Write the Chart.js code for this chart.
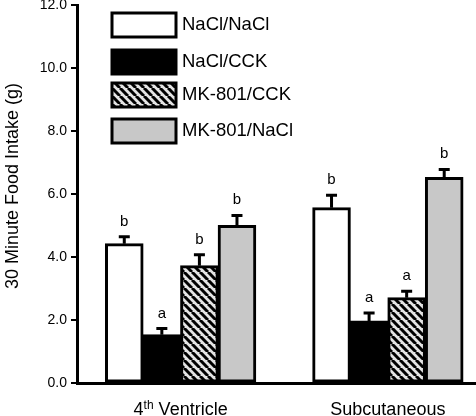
<!DOCTYPE html>
<html lang="en">
<head>
  <meta charset="UTF-8">
  <title>30 Minute Food Intake</title>
  <script src="https://cdn.jsdelivr.net/npm/chart.js"></script>
  <style>
    body { margin: 0; padding: 0; background: #fff; overflow: hidden; }
    #wrap { width: 500px; height: 416px; }
  </style>
</head>
<body>
  <div id="wrap"><canvas id="intakeChart" width="500" height="416"></canvas></div>

  <script>
    // Data
    const sites = ['4th Ventricle', 'Subcutaneous'];
    const groups = ['NaCl/NaCl', 'NaCl/CCK', 'MK-801/CCK', 'MK-801/NaCl'];
    const naclNacl = [4.42, 5.56];
    const naclCck = [1.53, 1.97];
    const mkCck = [3.72, 2.71];
    const mkNacl = [5.0, 6.52];
    const naclNaclErr = [0.22, 0.40];
    const naclCckErr = [0.20, 0.25];
    const mkCckErr = [0.35, 0.20];
    const mkNaclErr = [0.32, 0.26];
    const naclNaclSig = ['b', 'b'];
    const naclCckSig = ['a', 'a'];
    const mkCckSig = ['b', 'a'];
    const mkNaclSig = ['b', 'b'];
    const yTicks = [0, 2, 4, 6, 8, 10, 12];
    const yTitle = '30 Minute Food Intake (g)';

    const FONT = 'Arial, "Liberation Sans", sans-serif';

    // diagonal hatch for MK-801/CCK
    function makeHatch() {
      const c = document.createElement('canvas');
      c.width = 8; c.height = 8;
      const g = c.getContext('2d');
      g.fillStyle = '#e4e4e4';
      g.fillRect(0, 0, 8, 8);
      g.strokeStyle = '#000';
      g.lineWidth = 3;
      [-8, 0, 8].forEach(o => {
        g.beginPath();
        g.moveTo(o, 0);
        g.lineTo(o + 8, 8);
        g.stroke();
      });
      return g.createPattern(c, 'repeat');
    }

    const ctx = document.getElementById('intakeChart').getContext('2d');
    const hatch = makeHatch();

    const fills = ['#ffffff', '#000000', hatch, '#c8c8c8'];
    const values = [naclNacl, naclCck, mkCck, mkNacl];
    const errors = [naclNaclErr, naclCckErr, mkCckErr, mkNaclErr];
    const letters = [naclNaclSig, naclCckSig, mkCckSig, mkNaclSig];

    // error bars (upper only) + significance letters
    const errorPlugin = {
      id: 'errorBars',
      afterDatasetsDraw(chart) {
        const c = chart.ctx;
        const y = chart.scales.y;
        chart.data.datasets.forEach((ds, di) => {
          const meta = chart.getDatasetMeta(di);
          meta.data.forEach((bar, i) => {
            const top = y.getPixelForValue(ds.data[i]);
            const et = y.getPixelForValue(ds.data[i] + ds.err[i]);
            c.save();
            c.strokeStyle = '#000';
            c.lineWidth = 3;
            c.beginPath();
            c.moveTo(bar.x, top);
            c.lineTo(bar.x, et);
            c.moveTo(bar.x - 5.5, et);
            c.lineTo(bar.x + 5.5, et);
            c.stroke();
            c.fillStyle = '#000';
            c.font = '15px ' + FONT;
            c.textAlign = 'center';
            c.textBaseline = 'alphabetic';
            c.fillText(ds.sig[i], bar.x, et - 11);
            c.restore();
          });
        });
      }
    };

    // legend boxes at upper left of plot
    const legendPlugin = {
      id: 'boxLegend',
      afterDraw(chart) {
        const c = chart.ctx;
        const boxTops = [13, 50, 83, 119];
        c.save();
        chart.data.datasets.forEach((ds, i) => {
          const t = boxTops[i];
          c.fillStyle = ds.backgroundColor;
          c.fillRect(112, t, 64, 24);
          c.strokeStyle = '#000';
          c.lineWidth = 3;
          c.strokeRect(112, t, 64, 24);
          c.fillStyle = '#000';
          c.font = '18.5px ' + FONT;
          c.textAlign = 'left';
          c.textBaseline = 'middle';
          c.fillText(ds.label, 182, t + 12);
        });
        c.restore();
      }
    };

    // category labels with superscript ordinal, plus y title
    const textPlugin = {
      id: 'axisText',
      afterDraw(chart) {
        const c = chart.ctx;
        const x = chart.scales.x;
        c.save();
        c.fillStyle = '#000';
        c.textBaseline = 'alphabetic';
        c.textAlign = 'left';
        chart.data.labels.forEach((lab, i) => {
          const cx = x.getPixelForValue(i);
          const m = lab.match(/^(\d+)(st|nd|rd|th)(.*)$/);
          const base = 415;
          if (m) {
            c.font = '18px ' + FONT;
            const w1 = c.measureText(m[1]).width;
            const w3 = c.measureText(m[3]).width;
            c.font = '12px ' + FONT;
            const w2 = c.measureText(m[2]).width;
            let sx = cx - (w1 + w2 + w3) / 2;
            c.font = '18px ' + FONT;
            c.fillText(m[1], sx, base);
            c.font = '12px ' + FONT;
            c.fillText(m[2], sx + w1, base - 6);
            c.font = '18px ' + FONT;
            c.fillText(m[3], sx + w1 + w2, base);
          } else {
            c.font = '18px ' + FONT;
            c.textAlign = 'center';
            c.fillText(lab, cx, base);
            c.textAlign = 'left';
          }
        });
        c.translate(13, 186);
        c.rotate(-Math.PI / 2);
        c.font = '18px ' + FONT;
        c.textAlign = 'center';
        c.textBaseline = 'middle';
        c.fillText(yTitle, 0, 0);
        c.restore();
      }
    };

    const intakeChart = new Chart(ctx, {
      type: 'bar',
      data: {
        labels: sites,
        datasets: groups.map((g, i) => ({
          label: g,
          data: values[i],
          err: errors[i],
          sig: letters[i],
          backgroundColor: fills[i],
          borderColor: '#000',
          borderWidth: 3,
          borderSkipped: false,
          inflateAmount: 0.5,
          barPercentage: 1,
          categoryPercentage: 0.725
        }))
      },
      options: {
        responsive: false,
        animation: false,
        layout: { padding: { top: 5, right: 8.5, left: 0, bottom: 0 } },
        plugins: {
          legend: { display: false },
          tooltip: { enabled: false }
        },
        scales: {
          x: {
            grid: { display: false },
            border: { color: '#000', width: 3 },
            ticks: { display: false },
            afterFit(s) { s.height = 33; s.paddingLeft = 0; s.paddingRight = 0; }
          },
          y: {
            min: 0,
            max: 12,
            afterBuildTicks(s) { s.ticks = yTicks.map(v => ({ value: v })); },
            ticks: {
              color: '#000',
              font: { size: 14, family: FONT },
              padding: 4,
              callback: v => v.toFixed(1)
            },
            grid: {
              drawOnChartArea: false,
              drawTicks: true,
              tickLength: 6,
              color: '#000',
              lineWidth: 2
            },
            border: { color: '#000', width: 3 },
            afterFit(s) { s.width = 77; s.paddingTop = 0; s.paddingBottom = 0; }
          }
        }
      },
      plugins: [errorPlugin, legendPlugin, textPlugin]
    });
  </script>
</body>
</html>
